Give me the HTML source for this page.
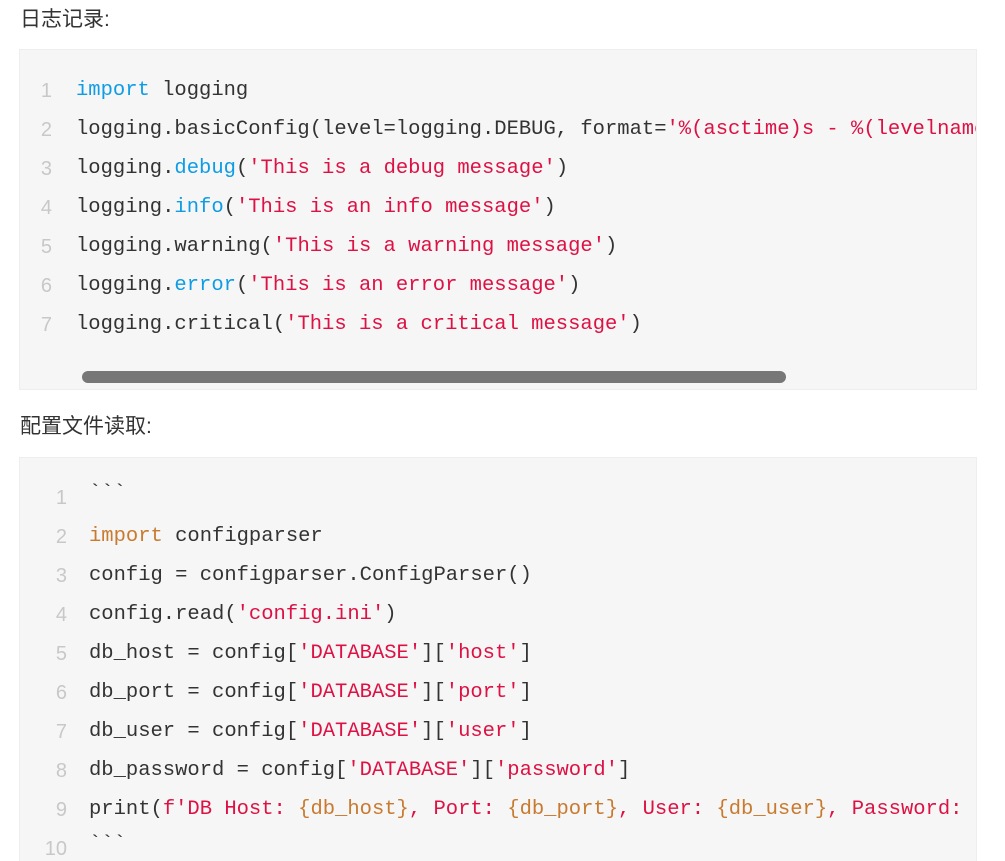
<!DOCTYPE html>
<html><head><meta charset="utf-8"><style>
html,body{margin:0;padding:0;background:#fff;width:1005px;height:861px;overflow:hidden;position:relative}
.h{position:absolute;left:20px;font:21px "Liberation Sans","Noto Sans CJK SC",sans-serif;color:#333}
.blk{position:absolute;left:19px;width:958px;background:#f6f6f6;border:1px solid #eee;box-sizing:border-box;overflow:hidden}
.l{position:absolute;white-space:pre;font:20.5px "Liberation Mono",monospace;color:#333;line-height:24px}
.n{position:absolute;font:20px "Liberation Sans",sans-serif;color:#c8c8c8;line-height:24px;text-align:right}
.k{color:#0e9ce5}.s{color:#dd1144}.o{color:#c87a2e}.ko{color:#c87a2e}
.sb{position:absolute;left:62px;top:321px;width:704px;height:12px;border-radius:6px;background:#777}
</style></head><body>
<div class="h" style="top:3px">日志记录:</div>
<div class="blk" style="top:49px;height:341px">
<div class="n" style="left:12px;width:20px;top:29px">1</div><div class="l" style="left:56px;top:29px"><span class="k">import</span> logging</div>
<div class="n" style="left:12px;width:20px;top:68px">2</div><div class="l" style="left:56px;top:68px">logging.basicConfig(level=logging.DEBUG, format=<span class="s">'%(asctime)s - %(levelname)s - %(message)s'</span>)</div>
<div class="n" style="left:12px;width:20px;top:107px">3</div><div class="l" style="left:56px;top:107px">logging.<span class="k">debug</span>(<span class="s">'This is a debug message'</span>)</div>
<div class="n" style="left:12px;width:20px;top:146px">4</div><div class="l" style="left:56px;top:146px">logging.<span class="k">info</span>(<span class="s">'This is an info message'</span>)</div>
<div class="n" style="left:12px;width:20px;top:185px">5</div><div class="l" style="left:56px;top:185px">logging.warning(<span class="s">'This is a warning message'</span>)</div>
<div class="n" style="left:12px;width:20px;top:224px">6</div><div class="l" style="left:56px;top:224px">logging.<span class="k">error</span>(<span class="s">'This is an error message'</span>)</div>
<div class="n" style="left:12px;width:20px;top:263px">7</div><div class="l" style="left:56px;top:263px">logging.critical(<span class="s">'This is a critical message'</span>)</div>
<div class="sb"></div>
</div>
<div class="h" style="top:410px">配置文件读取:</div>
<div class="blk" style="top:457px;height:420px">
<div class="n" style="left:20px;width:27px;top:28px">1</div><div class="l" style="left:69px;top:24px">&#96;&#96;&#96;</div>
<div class="n" style="left:20px;width:27px;top:67px">2</div><div class="l" style="left:69px;top:67px"><span class="ko">import</span> configparser</div>
<div class="n" style="left:20px;width:27px;top:106px">3</div><div class="l" style="left:69px;top:106px">config = configparser.ConfigParser()</div>
<div class="n" style="left:20px;width:27px;top:145px">4</div><div class="l" style="left:69px;top:145px">config.read(<span class="s">'config.ini'</span>)</div>
<div class="n" style="left:20px;width:27px;top:184px">5</div><div class="l" style="left:69px;top:184px">db_host = config[<span class="s">'DATABASE'</span>][<span class="s">'host'</span>]</div>
<div class="n" style="left:20px;width:27px;top:223px">6</div><div class="l" style="left:69px;top:223px">db_port = config[<span class="s">'DATABASE'</span>][<span class="s">'port'</span>]</div>
<div class="n" style="left:20px;width:27px;top:262px">7</div><div class="l" style="left:69px;top:262px">db_user = config[<span class="s">'DATABASE'</span>][<span class="s">'user'</span>]</div>
<div class="n" style="left:20px;width:27px;top:301px">8</div><div class="l" style="left:69px;top:301px">db_password = config[<span class="s">'DATABASE'</span>][<span class="s">'password'</span>]</div>
<div class="n" style="left:20px;width:27px;top:340px">9</div><div class="l" style="left:69px;top:340px">print(<span class="s">f'DB Host: </span><span class="o">{db_host}</span><span class="s">, Port: </span><span class="o">{db_port}</span><span class="s">, User: </span><span class="o">{db_user}</span><span class="s">, Password: </span><span class="o">{db_password}</span><span class="s">'</span>)</div>
<div class="n" style="left:20px;width:27px;top:379px">10</div><div class="l" style="left:69px;top:375px">&#96;&#96;&#96;</div>
</div>
</body></html>
